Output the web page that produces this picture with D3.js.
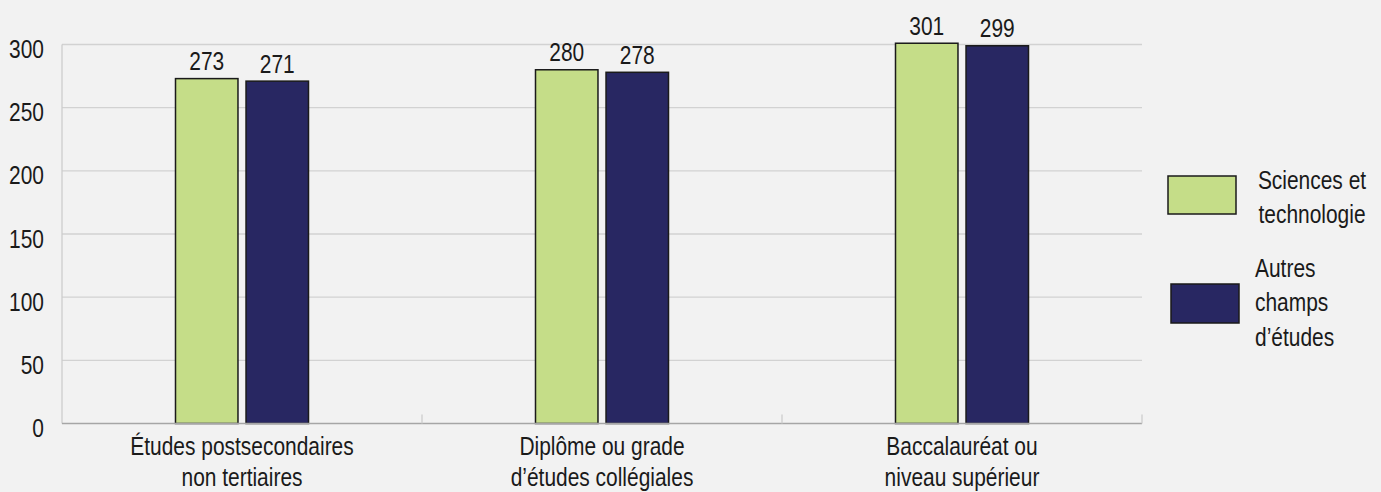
<!DOCTYPE html>
<html>
<head>
<meta charset="utf-8">
<script src="https://cdn.jsdelivr.net/npm/d3@7"></script>
<style>
  html, body { margin: 0; padding: 0; background: #f2f2f2; }
  svg { display: block; }
  text { font-family: "Liberation Sans", Arial, sans-serif; fill: #1a1a1a; }
</style>
</head>
<body>
<svg id="chart" width="1381" height="492"></svg>
<script>
const categories = [
  ["Études postsecondaires", "non tertiaires"],
  ["Diplôme ou grade", "d’études collégiales"],
  ["Baccalauréat ou", "niveau supérieur"]
];
const seriesNames = [["Sciences et", "technologie"], ["Autres", "champs", "d’études"]];
const scienceValues = [273, 280, 301];
const otherValues = [271, 278, 299];
const yTicks = [0, 50, 100, 150, 200, 250, 300];
const colors = ["#c5dd88", "#282762"];

const svg = d3.select("#chart");
const fontSize = 26.5;
const squeeze = 0.79;
const mLeft = 62, mRight = 1142, mTop = 44.5, mBottom = 423.5;

const catKeys = categories.map((c, i) => i);
const x = d3.scaleBand().domain(catKeys).range([mLeft, mRight]).padding(0);
const y = d3.scaleLinear().domain([0, 300]).range([mBottom, mTop]);
const xs = d3.scaleBand().domain([0, 1]).range([-66.5, 66.5]).paddingInner(0.114);

// condensed text helper
function label(parent, px, py, lines, anchor, lineH) {
  const g = parent.append("g").attr("transform", `translate(${px},${py}) scale(${squeeze},1)`);
  const t = g.append("text").attr("text-anchor", anchor).style("font-size", fontSize + "px");
  lines.forEach((s, k) => t.append("tspan").attr("x", 0).attr("y", k * lineH).text(s));
  return g;
}

// gridlines
svg.append("g").selectAll("line").data(yTicks.filter(d => d > 0)).join("line")
  .attr("x1", mLeft).attr("x2", mRight)
  .attr("y1", d => y(d)).attr("y2", d => y(d))
  .attr("stroke", "#d2d2d2").attr("stroke-width", 1.3);

// left axis line
svg.append("line").attr("x1", mLeft).attr("x2", mLeft).attr("y1", mTop).attr("y2", mBottom)
  .attr("stroke", "#cccccc").attr("stroke-width", 1.3);

// y tick labels
const yl = svg.append("g");
yTicks.forEach(d => label(yl, 44, y(d) + 13.5, [String(d)], "end", 0));

// bars
const rows = catKeys.map(i => [scienceValues[i], otherValues[i]]);
const groups = svg.append("g").selectAll("g").data(rows).join("g")
  .attr("transform", (d, i) => `translate(${x(i) + x.bandwidth() / 2},0)`);
groups.selectAll("rect").data(d => d.map((v, j) => ({v, j}))).join("rect")
  .attr("x", d => xs(d.j)).attr("width", xs.bandwidth())
  .attr("y", d => y(d.v)).attr("height", d => y(0) - y(d.v))
  .attr("fill", d => colors[d.j]).attr("stroke", "#1a1a1a").attr("stroke-width", 1.5);
groups.each(function(d) {
  const g = d3.select(this);
  d.forEach((v, j) => label(g, xs(j) + xs.bandwidth() / 2, y(v) - 8.5, [String(v)], "middle", 0));
});

// x axis baseline and ticks
svg.append("line").attr("x1", mLeft).attr("x2", mRight).attr("y1", mBottom).attr("y2", mBottom)
  .attr("stroke", "#a6a6a6").attr("stroke-width", 1.5);
const tickPos = catKeys.map(i => x(i)).concat([mRight]);
svg.append("g").selectAll("line").data(tickPos.slice(1)).join("line")
  .attr("x1", d => d).attr("x2", d => d).attr("y1", mBottom - 9).attr("y2", mBottom)
  .attr("stroke", "#cccccc").attr("stroke-width", 1.3);

// x labels
const xl = svg.append("g");
categories.forEach((lines, i) => label(xl, x(i) + x.bandwidth() / 2, 455, lines, "middle", 31.5));

// legend
const legendRect = [[1168, 176, 38], [1171, 284, 39]];
const legendText = [[1312, 189, "middle"], [1255, 277, "start"]];
const lg = svg.append("g");
seriesNames.forEach((names, j) => {
  lg.append("rect").attr("x", legendRect[j][0]).attr("y", legendRect[j][1])
    .attr("width", 68).attr("height", legendRect[j][2])
    .attr("fill", colors[j]).attr("stroke", "#1a1a1a").attr("stroke-width", 1.5);
  label(lg, legendText[j][0], legendText[j][1], names, legendText[j][2], 34.5);
});
</script>
</body>
</html>
